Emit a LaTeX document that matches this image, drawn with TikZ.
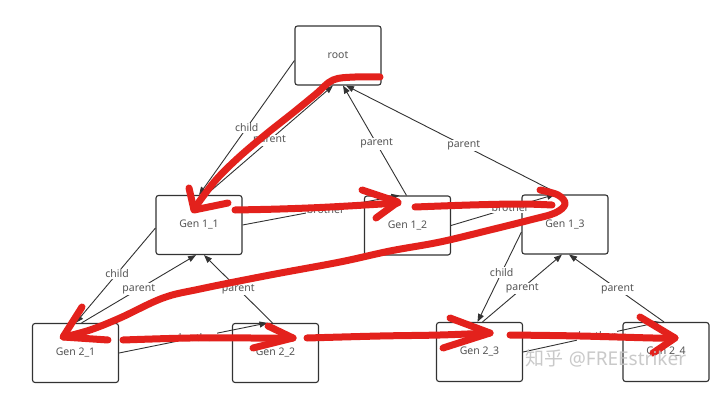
\documentclass[tikz,border=0pt]{standalone}
\usepackage{fontspec}
\setmainfont{Noto Sans}
\newfontfamily\cjkfont{Noto Sans CJK SC}
\usetikzlibrary{arrows.meta}
\definecolor{ink}{HTML}{333333}
\definecolor{txt}{HTML}{555555}
\definecolor{mark}{HTML}{E3211C}
\definecolor{wm}{HTML}{C4C4C4}

\begin{document}
\begin{tikzpicture}[x=1pt, y=-1pt,
  box/.style={draw=ink, line width=1.1pt, rounded corners=2.5pt, minimum width=86pt,
    minimum height=59pt, text=txt, font=\fontsize{10.5}{12}\selectfont},
  link/.style={draw=ink, line width=0.9pt, -{Triangle[length=8pt,width=6pt]}},
  lbl/.style={fill=white, inner sep=1pt, text=txt, font=\fontsize{10.5}{12}\selectfont},
  trace/.style={draw=mark, line width=7pt, line cap=round, line join=round}]
  \useasboundingbox[fill=white] (0,0) rectangle (720,393);

  % tree nodes
  \node[box] (root) at (338,55.5)  {root};
  \node[box] (g11)  at (199,225)   {Gen 1\_1};
  \node[box] (g12)  at (407.5,225.5) {Gen 1\_2};
  \node[box] (g13)  at (565,224.5) {Gen 1\_3};
  \node[box] (g21)  at (75.5,353)  {Gen 2\_1};
  \node[box] (g22)  at (275.5,353) {Gen 2\_2};
  \node[box] (g23)  at (479.5,352) {Gen 2\_3};
  \node[box] (g24)  at (666,352)   {Gen 2\_4};

  % child / parent links
  \draw[link] ([yshift=-5pt]root.west) -- (g11.north) node[lbl, pos=0.5] {child};
  \draw[link] ([xshift=7pt]g11.north) -- ([xshift=-5pt]root.south) node[lbl, pos=0.5] {parent};
  \draw[link] ([xshift=-1pt]g12.north) -- ([xshift=5pt]root.south) node[lbl, pos=0.47] {parent};
  \draw[link] ([xshift=-5pt]g13.north) -- ([xshift=8pt]root.south) node[lbl, pos=0.45] {parent};
  \draw[link] ([yshift=-3pt]g11.west) -- (g21.north) node[lbl, pos=0.48] {child};
  \draw[link] ([xshift=6pt]g21.north) -- ([xshift=-3pt]g11.south) node[lbl, pos=0.5] {parent};
  \draw[link] ([xshift=-3pt]g22.north) -- ([xshift=5pt]g11.south) node[lbl, pos=0.5] {parent};
  \draw[link] ([yshift=-7.5pt]g13.west) -- ([xshift=-2pt]g23.north) node[lbl, pos=0.45] {child};
  \draw[link] ([xshift=3pt]g23.north) -- ([xshift=-3pt]g13.south) node[lbl, pos=0.5] {parent};
  \draw[link] ([xshift=-2pt]g24.north) -- ([xshift=4pt]g13.south) node[lbl, pos=0.49] {parent};

  % brother links
  \draw[link] (g11.east) -- ([xshift=-8pt]g12.north) node[lbl, pos=0.53] {brother};
  \draw[link] (g12.east) -- ([xshift=-10pt]g13.north) node[lbl, pos=0.57] {brother};
  \draw[link] (g21.east) -- ([xshift=-8pt]g22.north) node[lbl, pos=0.53] {brother};
  \draw[link] (g23.east) -- ([xshift=-6pt]g24.north) node[lbl, pos=0.54] {brother};

  % hand-drawn traversal
  \draw[trace] plot[smooth, tension=0.6] coordinates {(380,77) (355,77) (333,80) (316,94)
    (294,112) (265,135) (238,158) (215,181) (194,209)};
  \draw[trace] (189,188) -- (194,210) -- (228,203);
  \draw[trace] plot[smooth, tension=0.6] coordinates {(235,210) (280,209) (330,207) (398,203)};
  \draw[trace] (362,190) -- (398,202) -- (376,218);
  \draw[trace] plot[smooth, tension=0.6] coordinates {(415,207) (470,205) (520,204) (552,205)};
  \draw[trace] plot[smooth, tension=0.6] coordinates {(540,190) (558,195) (565,204) (555,213)
    (530,220) (490,230) (440,242) (390,251) (340,262) (270,275) (200,289) (163,298)
    (120,318) (90,330) (64,337)};
  \draw[trace] (82,307) -- (63,337) -- (108,340);
  \draw[trace] plot[smooth, tension=0.6] coordinates {(123,340) (190,338) (253,338) (293,338)};
  \draw[trace] (268,326) -- (293,338) -- (253,348);
  \draw[trace] plot[smooth, tension=0.6] coordinates {(307,338) (380,336) (440,335) (490,333)};
  \draw[trace] (450,318) -- (490,333) -- (443,348);
  \draw[trace] plot[smooth, tension=0.6] coordinates {(510,335) (580,336) (653,338) (675,338)};
  \draw[trace] (640,317) -- (675,338) -- (653,353);

  % watermark
  \node[text=wm, opacity=0.9, font=\fontsize{19}{22}\selectfont, inner sep=0pt]
    (mark) at (606,358) {{\cjkfont 知乎}\ @FREEstriker};
\end{tikzpicture}
\end{document}
